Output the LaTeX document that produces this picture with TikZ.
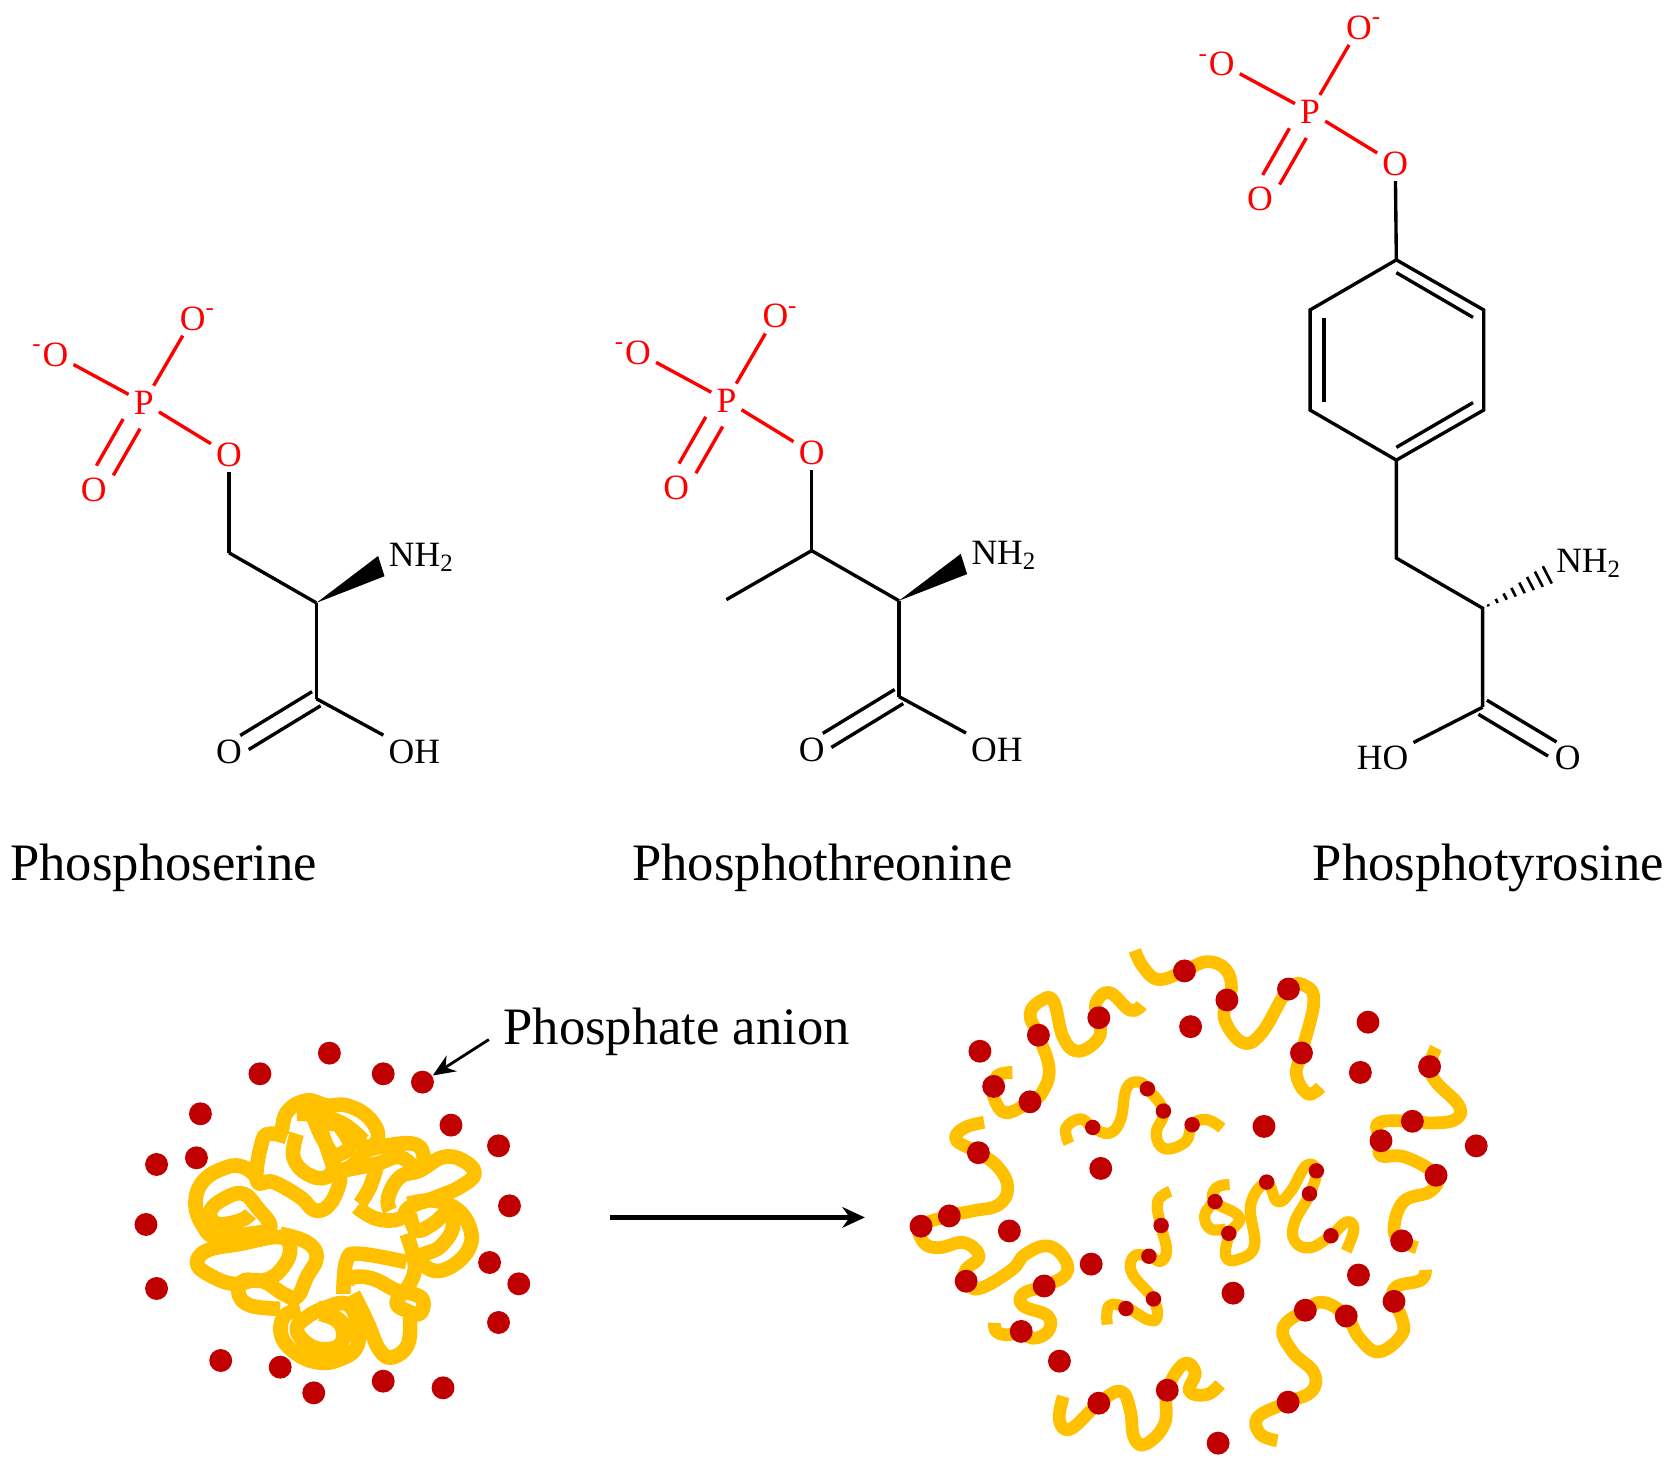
\documentclass[tikz,border=0pt]{standalone}
\usepackage{fontspec}
\setmainfont{Liberation Serif}
\usetikzlibrary{calc,arrows.meta}
\definecolor{coil}{HTML}{FFC000}
\definecolor{anion}{HTML}{C00000}
\definecolor{phos}{HTML}{FF0000}
\tikzset{
  atom/.style={inner sep=1.2pt,font=\fontsize{9.5}{11}\selectfont,text=black},
  ratom/.style={atom,text=phos},
  bond/.style={line width=0.9pt,draw=black,line cap=butt},
  rbond/.style={line width=0.9pt,draw=phos,line cap=butt},
  title/.style={anchor=base west,inner sep=0pt,font=\fontsize{14.05}{17}\selectfont},
  chain/.style={draw=coil,line width=3.4pt,line join=round},
  innerchain/.style={draw=coil,line width=3pt,line join=round},
  knot/.style={draw=coil,line width=3.9pt,line join=round},
  bigdot/.style={circle,fill=anion,draw=none,inner sep=0pt,minimum size=0.215cm},
  smalldot/.style={circle,fill=anion,draw=none,inner sep=0pt,minimum size=0.145cm},
  bigarrow/.style={line width=1.3pt,-{Stealth[length=6pt,width=5.5pt]}},
  smallarrow/.style={line width=0.75pt,-{Stealth[length=6pt,width=5pt]}},
}
\newcommand{\dblbond}[6]{% style, from, to, offset, shorten start, shorten end
  \draw[#1,shorten <=#5,shorten >=#6] ($(#2)!#4!90:(#3)$) -- ($(#3)!#4!-90:(#2)$);
  \draw[#1,shorten <=#5,shorten >=#6] ($(#2)!#4!-90:(#3)$) -- ($(#3)!#4!90:(#2)$);}
\newcommand{\phosgroup}{%
  \node[ratom] (P) at (0,0) {P};
  \node[ratom] (Ot) at (46,-79) {O\rlap{\textsuperscript{-}}};
  \node[ratom] (Ol) at (-83,-45) {\llap{\textsuperscript{-}}O};
  \node[ratom] (Od) at (-47,82) {O};
  \node[ratom] (Oe) at (80,49) {O};
  \draw[rbond] (P) -- (Ot);
  \draw[rbond] (P) -- (Ol);
  \draw[rbond] (P) -- (Oe);
  \dblbond{rbond}{P}{Od}{2.6pt}{2.3mm}{2.1mm}
}
\newcommand{\acidpart}{%
  \coordinate (Ca) at (162,188);
  \coordinate (C) at (162,278);
  \node[atom] (NH) at (261,145) {NH\textsubscript{2}};
  \node[atom] (Ox) at (80,328) {O};
  \node[atom] (OH) at (254,328) {OH};
  \coordinate (wa) at (220,144);
  \coordinate (wb) at (226,163);
  \fill[black] (Ca) -- (wa) -- (wb) -- cycle;
  \draw[bond] (Ca) -- (C);
  \draw[bond] (C) -- (OH);
  \dblbond{bond}{C}{Ox}{2.2pt}{0mm}{1.7mm}
}
\begin{document}
\begin{tikzpicture}[x=0.01cm,y=-0.01cm]
\useasboundingbox (0,0) rectangle (1567,1378.4);
% --- phosphoserine
\begin{scope}[shift={(135,378)},name prefix=s-]
  \phosgroup
  \coordinate (Cb) at (80,141);
  \acidpart
  \draw[bond] (Oe) -- (Cb);
  \draw[bond] (Cb) -- (Ca);
\end{scope}
% --- phosphothreonine
\begin{scope}[shift={(682,376)},name prefix=t-]
  \phosgroup
  \coordinate (Cb) at (80,141);
  \coordinate (Me) at (0,187);
  \acidpart
  \draw[bond] (Oe) -- (Cb);
  \draw[bond] (Cb) -- (Ca);
  \draw[bond] (Cb) -- (Me);
\end{scope}
% --- phosphotyrosine
\begin{scope}[shift={(1230,105)},name prefix=y-]
  \phosgroup
  \coordinate (R1) at (81,139);
  \coordinate (R2) at (163,186);
  \coordinate (R3) at (163,280);
  \coordinate (R4) at (81,327);
  \coordinate (R5) at (0,280);
  \coordinate (R6) at (0,186);
  \coordinate (i1a) at (81,151);
  \coordinate (i1b) at (153,193);
  \coordinate (i3a) at (153,273);
  \coordinate (i3b) at (81,315);
  \coordinate (i5a) at (13,194);
  \coordinate (i5b) at (13,272);
  \coordinate (Cb) at (81,419);
  \coordinate (Ca) at (162,466);
  \coordinate (C) at (162,559);
  \coordinate (Hx) at (228,432);
  \node[atom] (NH) at (262,424) {NH\textsubscript{2}};
  \node[atom] (Ox) at (242,607) {O};
  \node[atom] (HO) at (68,607) {HO};
  \draw[bond] (Oe) -- (R1);
  \draw[bond,line join=miter] (R1) -- (R2) -- (R3) -- (R4) -- (R5) -- (R6) -- cycle;
  \draw[bond] (i1a) -- (i1b);
  \draw[bond] (i3a) -- (i3b);
  \draw[bond] (i5a) -- (i5b);
  \draw[bond] (R4) -- (Cb) -- (Ca) -- (C);
  \draw[bond] (C) -- (HO);
  \dblbond{bond}{C}{Ox}{2.2pt}{0mm}{1.7mm}
  \foreach \t/\w in {0.08/0.3,0.2/0.6,0.32/0.95,0.44/1.3,0.56/1.6,0.68/1.95,0.8/2.3,0.92/2.6}{
    \draw[line width=0.7pt,black] ($($(Ca)!\t!(Hx)$)!\w pt!90:(Hx)$) -- ($($(Ca)!\t!(Hx)$)!\w pt!-90:(Hx)$);
  }
\end{scope}
% --- titles
\node[title] (tS) at (9,827) {Phosphoserine};
\node[title] (tT) at (593,827) {Phosphothreonine};
\node[title] (tY) at (1232,827) {Phosphotyrosine};
\node[title,anchor=base west] (tA) at (472,981) {Phosphate anion};
% --- left: collapsed coil
\begin{scope}[shift={(94.6,939.3)},xscale=.312,yscale=.313]
\foreach \pts in {
 {(545,400)(560,335)(620,300)(680,315)(740,315)(805,350)(835,410)(800,450)(750,500)(700,510)},
 {(640,380)(700,370)(760,400)(790,440)},
 {(590,340)(650,345)(730,370)(790,420)},
 {(660,380)(680,440)(700,500)},
 {(720,380)(750,440)(690,470)},
 {(590,400)(580,470)(620,520)(680,530)(700,480)(660,400)(640,350)},
 {(560,410)(510,400)(485,425)(470,540)(520,545)(600,590)(645,630)(690,610)(720,540)(710,500)},
 {(470,530)(430,500)(380,500)(310,540)(285,610)(310,680)(350,710)(450,700)(510,680)(470,620)(430,580)(380,590)(330,630)(350,670)(420,660)(450,640)},
 {(540,700)(620,725)(650,770)(620,830)(590,890)(550,880)(480,840)(400,850)(330,825)(290,790)(320,750)(420,730)(540,710)(570,750)(540,810)(490,840)(430,840)(415,880)(450,915)(540,925)},
 {(600,925)(550,950)(545,1010)(590,1060)(650,1085)(710,1080)(770,1040)(770,960)(740,910)(680,920)(620,950)(590,990)(640,1040)(710,1040)(730,1000)(710,960)(660,940)},
 {(650,920)(720,960)(760,1020)},
 {(730,880)(740,780)(780,760)(920,785)},
 {(740,850)(760,830)(820,835)(890,870)(940,880)(970,900)(960,940)(920,930)(890,905)(930,850)(945,790)(920,700)},
 {(760,880)(800,960)(840,1050)(880,1070)(925,1030)(930,950)},
 {(925,610)(1000,600)(1070,625)(1110,680)(1110,740)(1060,795)(1000,810)(960,770)(1020,740)(1060,680)(1040,640)(1000,670)(950,690)(930,640)},
 {(770,620)(830,655)(900,655)(930,620)(1010,590)(1080,560)(1125,520)(1090,480)(1030,470)(960,510)(900,530)(865,590)(870,630)},
 {(830,500)(810,560)(780,610)},
 {(800,450)(860,435)(940,430)(970,460)(960,510)(900,470)(830,490)(730,510)}}{
   \draw[knot] plot[smooth,tension=0.7] coordinates {\pts};
}
\foreach \x/\y [count=\i] in {688/158,479/220,850/220,968/245,300/340,1054/374,1197/436,168/492,288/472,1230/616,136/672,1170/786,1258/850,168/864,1197/966,361/1080,540/1100,641/1177,850/1142,1030/1162}{
  \node[bigdot] (L\i) at (\x,\y) {};
}
\end{scope}
\coordinate (aS) at (459,976);
\draw[smallarrow] (aS) -- (L4);
% --- main arrow
\coordinate (mA) at (573,1143);
\coordinate (mB) at (812,1143);
\draw[bigarrow] (mA) -- (mB);
% --- right: open chains
\begin{scope}[shift={(845.7,874.7)},xscale=.359,yscale=.3208]
\foreach \pts in {
 {(612,55)(635,105)(675,140)(742,115)(800,88)(850,110)(865,165)(853,200)(848,260)(895,325)(945,295)(1014,168)(1060,160)(1080,210)(1048,355)(1035,420)(1065,475)(1098,455)},
 {(630,215)(600,230)(545,178)(510,210)(518,252)(518,310)(465,350)(425,310)(400,205)(370,200)(338,240)(360,305)(388,400)(370,470)(338,498)(275,530)(245,490)(243,453)(255,420)(292,412)},
 {(218,558)(165,575)(145,610)(203,647)(255,690)(280,750)(255,800)(190,817)(127,832)(53,862)(60,910)(100,925)(165,910)(205,950)(170,990)(171,1023)(205,1045)(290,990)(325,945)(385,920)(430,960)(430,1005)(375,1037)(320,1060)(320,1095)(385,1125)(385,1170)(345,1190)(315,1170)(280,1180)(250,1170)(245,1145)},
 {(425,1360)(415,1430)(445,1455)(518,1380)(575,1345)(600,1400)(610,1480)(640,1500)(690,1440)(697,1342)(740,1265)(770,1290)(755,1345)(800,1355)(835,1325)},
 {(985,1490)(940,1470)(935,1420)(1013,1377)(1075,1345)(1080,1290)(1025,1230)(1000,1160)(1058,1108)(1105,1085)(1165,1125)(1200,1190)(1250,1230)(1310,1180)(1310,1130)(1290,1082)(1295,1040)(1360,1020)(1372,990)},
 {(1400,340)(1383,395)(1400,440)(1460,510)(1450,550)(1390,560)(1338,555)(1250,560)(1256,612)(1255,655)(1320,660)(1400,713)(1385,760)(1315,790)(1290,870)(1310,905)(1350,925)}}{
   \draw[chain] plot[smooth,tension=0.7] coordinates {\pts};
}
\foreach \pts in {
 {(440,620)(432,575)(470,548)(502,573)(545,590)(575,550)(590,460)(620,440)(645,460)(687,525)(668,590)(690,635)(745,615)(762,565)(800,550)(840,575)},
 {(705,760)(672,790)(680,860)(695,930)(680,965)(650,950)(610,950)(605,1000)(660,1075)(670,1130)(645,1135)(590,1100)(545,1095)(540,1150)},
 {(860,740)(825,750)(820,790)(885,835)(860,885)(850,950)(880,960)(925,920)(915,800)(957,735)(985,790)(1020,760)(1060,685)(1087,700)(1069,770)(1030,850)(1030,905)(1070,925)(1125,890)(1165,850)(1185,870)(1165,935)},
 {(820,790)(795,830)(810,870)(850,870)}}{
   \draw[innerchain] plot[smooth,tension=0.7] coordinates {\pts};
}
\foreach \x/\y [count=\i] in {207/350,243/453,338/498,360/303,518/252,742/115,853/200,1014/168,758/278,1222/265,1048/355,1202/412,1383/395,1338/555,1256/612,1505/627,1400/713,950/570,523/693,203/647,127/832,53/862,284/876,171/1023,375/1037,498/973,315/1170,415/1257,518/1380,697/1342,830/1497,1013/1377,1058/1108,1165/1125,1290/1082,869/1058,1197/1005,1310/905}{
  \node[bigdot] (R\i) at (\x,\y) {};
}
\foreach \x/\y [count=\i] in {645/460,687/525,502/573,762/565,957/733,1087/700,1069/767,822/790,858/883,1125/890,681/860,649/950,661/1075,589/1103}{
  \node[smalldot] (Q\i) at (\x,\y) {};
}
\end{scope}
\end{tikzpicture}
\end{document}
